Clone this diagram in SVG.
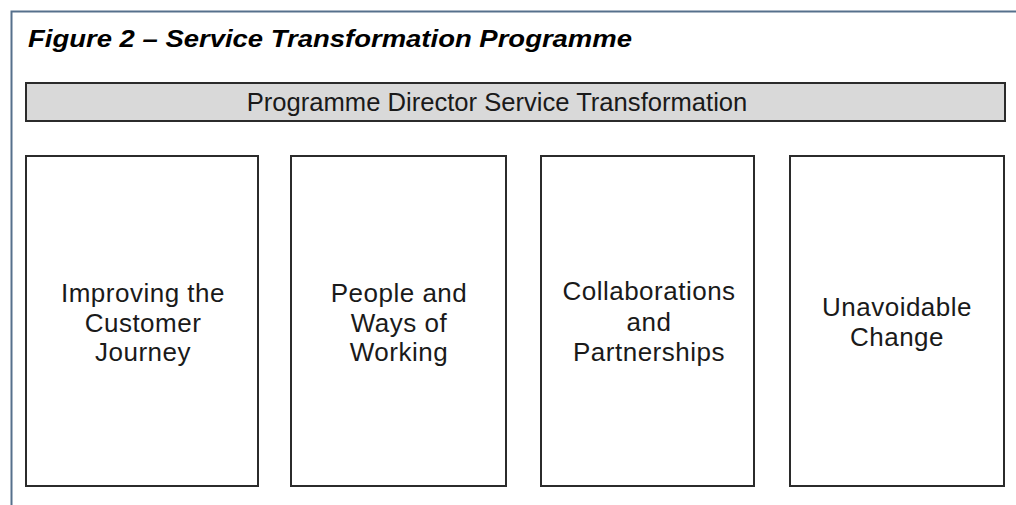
<svg xmlns="http://www.w3.org/2000/svg" width="1016" height="505" viewBox="0 0 1016 505">
<style>
.frame{fill:none;stroke:#56708c;stroke-width:2}
.box{fill:#ffffff;stroke:#2b2b2b;stroke-width:2}
.head{fill:#d9d9d9;stroke:#2b2b2b;stroke-width:2}
.t{font-family:"Liberation Sans",Arial,sans-serif;font-size:26px;fill:#1a1a1a;text-anchor:middle;letter-spacing:0.5px}
.h{font-family:"Liberation Sans",Arial,sans-serif;font-size:25.6px;fill:#1a1a1a;text-anchor:middle}
.title{font-family:"Liberation Sans",Arial,sans-serif;font-size:24px;font-weight:bold;font-style:italic;fill:#000}
</style>
<rect width="1016" height="505" fill="#ffffff"/>
<path class="frame" d="M1016 11.5 H11.5 V505"/>
<text class="title" x="28" y="47" textLength="604" lengthAdjust="spacingAndGlyphs">Figure 2 – Service Transformation Programme</text>
<g id="director">
<rect class="head" x="26" y="83" width="979" height="38"/>
<text class="h" x="497" y="111">Programme Director Service Transformation</text>
</g>
<g id="customer-journey">
<rect class="box" x="26" y="156" width="232" height="330"/>
<text class="t" x="143" y="302">Improving the</text>
<text class="t" x="143" y="332">Customer</text>
<text class="t" x="143" y="361">Journey</text>
</g>
<g id="ways-of-working">
<rect class="box" x="291" y="156" width="215" height="330"/>
<text class="t" x="399" y="302">People and</text>
<text class="t" x="399" y="332">Ways of</text>
<text class="t" x="399" y="361">Working</text>
</g>
<g id="collaborations">
<rect class="box" x="541" y="156" width="213" height="330"/>
<text class="t" x="649" y="300">Collaborations</text>
<text class="t" x="649" y="331">and</text>
<text class="t" x="649" y="361">Partnerships</text>
</g>
<g id="unavoidable-change">
<rect class="box" x="790" y="156" width="214" height="330"/>
<text class="t" x="897" y="316">Unavoidable</text>
<text class="t" x="897" y="346">Change</text>
</g>
<g id="connectors"></g>
</svg>
